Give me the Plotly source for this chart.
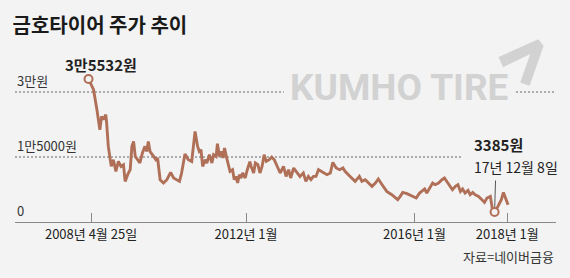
import numpy as np
import plotly.graph_objects as go

# ---- data ----
years = [
    2008.26, 2008.38, 2008.46, 2008.53, 2008.57, 2008.61, 2008.67, 2008.69, 2008.73, 2008.80,
    2008.85, 2008.91, 2008.97, 2009.03, 2009.09, 2009.13, 2009.19, 2009.25, 2009.29, 2009.33,
    2009.37, 2009.43, 2009.48, 2009.54, 2009.60, 2009.64, 2009.68, 2009.72, 2009.80, 2009.86,
    2009.90, 2009.96, 2010.00, 2010.04, 2010.12, 2010.21, 2010.28, 2010.36, 2010.42, 2010.47,
    2010.55, 2010.63, 2010.71, 2010.79, 2010.85, 2010.89, 2010.93, 2010.97, 2011.03, 2011.07,
    2011.13, 2011.19, 2011.23, 2011.29, 2011.32, 2011.37, 2011.41, 2011.45, 2011.49, 2011.54,
    2011.62, 2011.68, 2011.72, 2011.76, 2011.80, 2011.84, 2011.88, 2011.92, 2011.98, 2012.03,
    2012.09, 2012.12, 2012.18, 2012.22, 2012.28, 2012.33, 2012.38, 2012.43, 2012.48, 2012.55,
    2012.61, 2012.67, 2012.73, 2012.81, 2012.89, 2012.95, 2013.01, 2013.06, 2013.13, 2013.21,
    2013.28, 2013.36, 2013.42, 2013.48, 2013.54, 2013.60, 2013.66, 2013.72, 2013.78, 2013.84,
    2013.92, 2014.00, 2014.06, 2014.14, 2014.22, 2014.30, 2014.35, 2014.47, 2014.59, 2014.69,
    2014.75, 2014.83, 2014.91, 2014.99, 2015.07, 2015.14, 2015.23, 2015.34, 2015.46, 2015.60,
    2015.66, 2015.72, 2015.82, 2015.91, 2016.04, 2016.12, 2016.18, 2016.24, 2016.29, 2016.37,
    2016.43, 2016.49, 2016.57, 2016.65, 2016.71, 2016.79, 2016.85, 2016.90, 2016.97, 2017.03,
    2017.09, 2017.14, 2017.20, 2017.27, 2017.32, 2017.38, 2017.44, 2017.52, 2017.60, 2017.66,
    2017.72, 2017.80, 2017.85, 2017.90, 2017.98, 2018.06, 2018.11, 2018.17, 2018.22,
]
prices = [
    33000, 30530, 25920, 21300, 24370, 23610, 24760, 22920, 17450, 12830,
    14380, 11680, 13980, 12830, 13220, 9370, 10920, 12070, 17450, 18600,
    15140, 14380, 13620, 15920, 17450, 16290, 18600, 16290, 15140, 14380,
    14770, 9760, 9370, 9000, 9760, 11450, 10150, 9760, 9370, 11310,
    15690, 14380, 13980, 20910, 17450, 16290, 16680, 12830, 14380, 13620,
    15530, 13620, 15530, 15140, 18070, 15140, 16290, 14770, 17080, 14770,
    11680, 12070, 9760, 10520, 9000, 10920, 10150, 11310, 10150, 12070,
    13920, 12830, 11310, 13620, 13220, 11310, 12830, 15530, 13980, 14380,
    15000, 14380, 13220, 11310, 12830, 10520, 12070, 10150, 12460, 11310,
    10520, 11310, 9370, 10520, 9760, 10520, 10520, 12070, 11680, 11310,
    10920, 11310, 13750, 12460, 12070, 12460, 11680, 10520, 9370, 10520,
    9370, 9760, 9000, 8220, 9000, 9920, 8610, 7060, 6300, 5150,
    5910, 6830, 6530, 6070, 5540, 6690, 7060, 7620, 6690, 8220,
    9000, 8610, 9000, 9760, 10150, 9000, 8220, 7450, 8220, 8610,
    7060, 7620, 6690, 7290, 6300, 6830, 6300, 5910, 5150, 4520,
    5540, 5910, 2840, 2310, 3600, 5150, 6830, 5150, 3990,
]
tick_vals = [2008.32, 2012.0, 2016.0, 2018.2]
tick_text = ["2008년 4월 25일", "2012년 1월", "2016년 1월", "2018년 1월"]
grid_vals = [0, 15000, 30000]
grid_text = ["0", "1만5000원", "3만원"]
peak_label = "3만5532원"
low_label = "3385원"
low_date_label = "17년 12월 8일"

LINE = "#b07058"
BG = "#f3f3f3"
LOGO = "#d2d2d2"
FONT = "'Noto Sans CJK KR', 'Noto Sans', sans-serif"

i_max = int(np.argmax(prices))
i_min = int(np.argmin(prices))

fig = go.Figure()
fig.add_trace(go.Scatter(x=years, y=prices, mode="lines",
                         line=dict(color=LINE, width=2.9), hoverinfo="skip"))
fig.add_trace(go.Scatter(x=[years[i_max], years[i_min]],
                         y=[prices[i_max], prices[i_min]],
                         mode="markers", cliponaxis=False,
                         marker=dict(size=8, color=BG, line=dict(color=LINE, width=2)),
                         hoverinfo="skip"))

# dotted reference lines (segments interrupted by logo / labels)
dot = dict(color="#666666", width=1, dash="2px,2px")
for (yv, x0, x1) in [(30000, 0.0, 0.497), (30000, 0.926, 1.0), (15000, 0.0, 0.828)]:
    fig.add_shape(type="line", xref="paper", yref="y", x0=x0, x1=x1, y0=yv, y1=yv,
                  line=dot, layer="below")

# logo swoosh (filled polygon)
fig.add_shape(type="path", xref="paper", yref="paper",
              path=("M 0.8961,1.0816 L 0.9667,1.1941 L 0.9750,1.1579 L 0.9501,0.9046 "
                    "L 0.9362,0.9211 L 0.9556,1.1184 L 0.9031,1.0276 Z"),
              fillcolor=LOGO, line=dict(color=LOGO, width=2))

ann = []
for v, t in zip(grid_vals, grid_text):
    ann.append(dict(xref="paper", yref="y", x=0, y=v, text=t, showarrow=False,
                    xanchor="left", yanchor="bottom",
                    font=dict(size=13, color="#333333")))
ann.append(dict(x=years[i_max], y=prices[i_max], text=peak_label, showarrow=False,
                xanchor="center", yanchor="middle", xshift=12, yshift=15,
                font=dict(size=15, color="#222222", weight="bold")))
ann.append(dict(x=years[i_min], y=prices[i_min], text=low_label, showarrow=False,
                xanchor="left", yanchor="middle", xshift=-23, yshift=67,
                font=dict(size=15, color="#222222", weight="bold")))
ann.append(dict(x=years[i_min], y=prices[i_min], text=low_date_label, showarrow=False,
                xanchor="left", yanchor="middle", xshift=-23, yshift=45,
                font=dict(size=14, color="#222222")))
ann.append(dict(x=years[i_min], y=prices[i_min], text="", showarrow=True,
                arrowhead=0, ax=1, ay=-33, standoff=5, arrowwidth=1, arrowcolor="#555555"))
ann.append(dict(xref="paper", yref="paper", x=0.710, y=0.882, text="KUMHO TIRE",
                showarrow=False, xanchor="center", yanchor="middle",
                font=dict(size=37, color=LOGO, weight="bold",
                          family="Roboto, sans-serif")))
ann.append(dict(xref="paper", yref="paper", x=1, y=-0.23, text="자료=네이버금융",
                showarrow=False, xanchor="right", yanchor="middle",
                font=dict(size=13, color="#333333")))

fig.update_layout(
    width=570, height=278,
    margin=dict(l=15, r=14, t=70, b=56),
    paper_bgcolor=BG, plot_bgcolor=BG,
    font=dict(family=FONT, color="#222222"),
    showlegend=False,
    title=dict(text="<b>금호타이어 주가 추이</b>", xref="container", yref="container",
               x=0.022, y=0.905, xanchor="left", yanchor="middle",
               font=dict(size=20, color="#1a1a1a")),
    xaxis=dict(range=[2006.515, 2019.358], tickvals=tick_vals, ticktext=tick_text,
               showgrid=False, zeroline=False, showline=True, linecolor="#888888",
               linewidth=1, ticks="inside", ticklen=9, tickcolor="#888888",
               tickfont=dict(size=13, color="#222222"), fixedrange=True),
    yaxis=dict(range=[0, 35077], showgrid=False, zeroline=False, showticklabels=False,
               showline=False, fixedrange=True),
    annotations=ann,
)

fig.write_html("out.html")
